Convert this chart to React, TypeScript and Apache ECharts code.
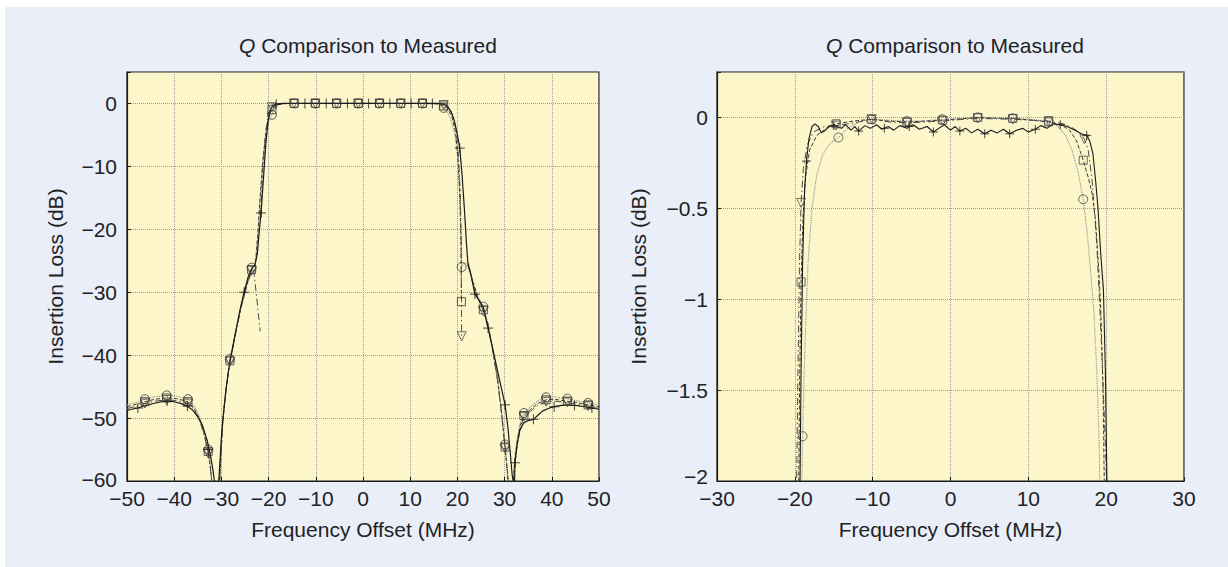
import React, { useEffect, useRef } from "react";
import * as echarts from "echarts";

type P = [number, number] | null;

const FONT = '"Liberation Sans", Arial, Helvetica, sans-serif';
const TITLE = "{i|Q} Comparison to Measured";
const X_NAME = "Frequency Offset (MHz)";
const Y_NAME = "Insertion Loss (dB)";

// axis ranges
const leftX = { min: -50, max: 50, interval: 10 };
const leftY = { min: -60, max: 5, interval: 10 };
const rightX = { min: -30, max: 30, interval: 10 };
const rightY = { min: -2, max: 0.25, interval: 0.5 };

// ---------- LEFT CHART (wide span) ----------
const leftMeasured: P[] = [
  [-50, -48.8], [-49, -48.6], [-47.7, -48.4], [-46, -48.0], [-44, -47.6], [-42, -47.3], [-40, -47.4],
  [-38.5, -47.7], [-37.2, -48.1], [-36, -48.8], [-35, -49.8], [-34, -51.2], [-33, -53.6], [-32.3, -56],
  [-31.8, -58.2], [-31.4, -60.5], [-30.6, -60.5], [-30.3, -57], [-30, -53], [-29.6, -49.5], [-29.1, -46],
  [-28.6, -43], [-28.1, -40.8], [-27.2, -37.2], [-26.2, -33.3], [-25.2, -30], [-24.3, -27.5], [-23.6, -26.3],
  [-22.9, -25.6], [-22.4, -24], [-22, -20.5], [-21.6, -17.4], [-21.1, -12], [-20.6, -6.5], [-20.1, -2.8],
  [-19.6, -0.9], [-19, -0.3], [-18.2, -0.1], [-17, 0], [-10, 0], [0, 0], [10, 0], [16, 0], [17, -0.1],
  [17.8, -0.4], [18.6, -1.2], [19.3, -2.6], [19.9, -4.6], [20.5, -7.1], [21, -11.5], [21.5, -17], [21.9, -22],
  [22.2, -25.2], [22.9, -27.3], [23.7, -30.3], [24.6, -31.3], [25.5, -32.4], [26.5, -35.7], [27.5, -39],
  [28.5, -42.5], [29.4, -45.5], [30.1, -47.9], [30.7, -51.5], [31.2, -55.5], [31.6, -59], [31.9, -60.5],
  [32.1, -60.5], [32.2, -57.1], [32.6, -54.5], [33.2, -52], [34, -50.8], [35, -50.4], [36.1, -50.2],
  [37, -49.6], [38, -48.9], [39.5, -48.4], [41, -48.1], [43, -47.9], [45, -48], [47, -48.2], [48.5, -48.4],
  [50, -48.6],
];
const leftMeasuredMarks: P[] = [
  [-47.7, -48.4], [-41.5, -47.3], [-37.2, -48.1], [-32.8, -55], [-25.2, -30], [-21.6, -17.4],
  [-18.4, -0.1], [-12.3, 0], [-7.8, 0], [-3.3, 0], [1.2, 0], [5.7, 0], [10.2, 0], [14.7, 0],
  [20.5, -7.1], [23.7, -30.3], [26.5, -35.7], [30.1, -47.9], [32.2, -57.1], [36.1, -50.2],
  [40.5, -48.2], [44.8, -48], [48.5, -48.4],
];

const leftCircle: P[] = [
  [-50, -47.9], [-48, -47.5], [-46.2, -47.0], [-44, -46.6], [-41.6, -46.4], [-39.5, -46.5], [-37.1, -47.0],
  [-35.8, -48], [-34.6, -49.8], [-33.6, -52.2], [-32.8, -55], [-32.3, -57.5], [-32, -60.5], [-30.5, -60.5],
  [-30.2, -56.5], [-29.8, -51], [-29.2, -46.5], [-28.6, -43], [-28.2, -40.6], [-27, -36.2], [-25.8, -32],
  [-24.6, -28.6], [-23.6, -26.1], [-22.8, -25.5], [-22.3, -21], [-21.8, -15], [-21.2, -9], [-20.5, -4.5],
  [-19.9, -2.6], [-19.3, -1.8], [-18.6, -0.6], [-17.6, -0.15], [-16, 0], [-14.6, 0], [-10.1, 0], [-5.6, 0],
  [-1, 0], [3.5, 0], [8, 0], [12.6, 0], [15.5, -0.1], [16.6, -0.4], [17.6, -1], [18.6, -2.5], [19.5, -5],
  [20.1, -9], [20.5, -15], [20.8, -21], [20.9, -26], [21.5, -25.3], [22.2, -25.4], [23.2, -28], [24.4, -30.8],
  [25.5, -32.3], [26.5, -35], [27.5, -39], [28.5, -43.5], [29.3, -48.5], [30.1, -54.2], [30.5, -57.5],
  [30.8, -60.5], [31.7, -60.5], [32, -57.5], [32.5, -54], [33.2, -51], [34.1, -49.2], [35.5, -48.2],
  [37, -47.3], [38.8, -46.7], [40.5, -46.6], [43, -46.9], [45, -47.2], [47.7, -47.6], [50, -47.9],
];
const leftCircleMarks: P[] = [
  [-46.2, -47], [-41.6, -46.4], [-37.1, -47], [-32.8, -55], [-28.2, -40.6], [-23.6, -26.1], [-19.3, -1.8],
  [-14.6, 0], [-10.1, 0], [-5.6, 0], [-1, 0], [3.5, 0], [8, 0], [12.6, 0], [17.1, -0.7],
  [20.9, -26], [25.5, -32.3], [30.1, -54.2], [34.1, -49.2], [38.8, -46.7], [43.3, -46.9], [47.7, -47.6],
];

const leftSquare: P[] = [
  [-50, -48.2], [-48, -47.8], [-46.2, -47.4], [-44, -47], [-41.6, -46.8], [-39.5, -46.9], [-37.1, -47.4],
  [-35.8, -48.4], [-34.6, -50.2], [-33.6, -52.6], [-32.8, -55.3], [-32.3, -58], [-32, -60.5], [-30.4, -60.5],
  [-30.1, -56], [-29.7, -50.5], [-29.1, -46], [-28.6, -43], [-28.2, -40.9], [-27, -36.4], [-25.8, -32.2],
  [-24.6, -28.8], [-23.6, -26.4], [-22.8, -25.7], [-22.3, -21], [-21.8, -15], [-21.2, -9], [-20.5, -4],
  [-19.9, -1.8], [-19.3, -1.0], [-18.6, -0.4], [-17.6, -0.1], [-16, 0], [-14.6, 0], [-10.1, 0], [-5.6, 0],
  [-1, 0], [3.5, 0], [8, 0], [12.6, 0], [15.8, -0.05], [16.8, -0.25], [17.8, -0.7], [18.8, -2], [19.6, -4.5],
  [20.1, -8.5], [20.5, -14], [20.75, -22], [20.85, -31.5], null, [22.2, -25.5], [23.2, -28.2], [24.4, -31],
  [25.5, -32.8], [26.5, -35.3], [27.5, -39.2], [28.5, -43.8], [29.3, -48.8], [30.1, -54.6], [30.5, -57.8],
  [30.8, -60.5], [31.8, -60.5], [32.1, -57.5], [32.6, -54], [33.3, -51.2], [34.1, -49.6], [35.5, -48.6],
  [37, -47.7], [38.8, -47.1], [40.5, -47], [43, -47.3], [45, -47.5], [47.7, -47.9], [50, -48.2],
];
const leftSquareMarks: P[] = [
  [-46.2, -47.4], [-41.6, -46.8], [-37.1, -47.4], [-32.8, -55.3], [-28.2, -40.9], [-23.6, -26.4], [-19.3, -1.0],
  [-14.6, 0], [-10.1, 0], [-5.6, 0], [-1, 0], [3.5, 0], [8, 0], [12.6, 0], [17.1, -0.4],
  [20.85, -31.5], [25.5, -32.8], [30.1, -54.6], [34.1, -49.6], [38.8, -47.1], [43.3, -47.3], [47.7, -47.9],
];

const leftTri: P[] = [
  [-50, -48.5], [-48, -48.1], [-46.2, -47.7], [-44, -47.3], [-41.6, -47.1], [-39.5, -47.2], [-37.1, -47.7],
  [-35.8, -48.6], [-34.6, -50.4], [-33.6, -52.8], [-32.8, -55.6], [-32.3, -58.2], [-32, -60.5], [-30.4, -60.5],
  [-30.1, -56], [-29.7, -50.5], [-29.1, -46], [-28.6, -43.2], [-28.2, -41], [-27, -36.6], [-25.8, -32.4],
  [-24.6, -29], [-23.6, -26.6], [-23.2, -26.2], [-22.5, -31], [-21.8, -36.2], null, [-21.7, -18], [-21.2, -10],
  [-20.6, -4.5], [-20, -1.6], [-19.3, -0.6], [-18.6, -0.2], [-17.6, 0], [-14.6, 0], [-10.1, 0], [-5.6, 0],
  [-1, 0], [3.5, 0], [8, 0], [12.6, 0], [16, -0.05], [17, -0.2], [18, -0.6], [19, -1.8], [19.7, -4], [20.2, -8],
  [20.6, -14], [20.8, -22], [20.9, -37], null, [22.2, -25.6], [23.2, -28.4], [24.4, -31.2], [25.5, -33],
  [26.5, -35.5], [27.5, -39.4], [28.5, -44], [29.3, -49], [30.1, -54.8], [30.5, -58], [30.8, -60.5],
  [31.9, -60.5], [32.2, -57.5], [32.7, -54], [33.4, -51.4], [34.1, -49.8], [35.5, -48.9], [37, -48],
  [38.8, -47.4], [40.5, -47.3], [43, -47.5], [45, -47.8], [47.7, -48.1], [50, -48.4],
];
const leftTriMarks: P[] = [
  [-46.2, -47.7], [-41.6, -47.1], [-37.1, -47.7], [-32.8, -55.6], [-28.2, -41], [-23.6, -26.6], [-19.3, -0.6],
  [-14.6, 0], [-10.1, 0], [-5.6, 0], [-1, 0], [3.5, 0], [8, 0], [12.6, 0], [17.1, -0.25],
  [20.9, -37], [25.5, -33], [30.1, -54.8], [34.1, -49.8], [38.8, -47.4], [43.3, -47.5], [47.7, -48.1],
];

// ---------- RIGHT CHART (passband zoom) ----------
const rightMeasured: P[] = [
  [-19.4, -2.3], [-19.2, -1.4], [-19.0, -0.8], [-18.75, -0.4], [-18.5, -0.24], [-18.2, -0.12], [-17.8, -0.05],
  [-17.4, -0.035], [-17.0, -0.05], [-16.6, -0.085], [-16.2, -0.075], [-15.6, -0.05], [-15, -0.045],
  [-14, -0.06], [-13.5, -0.04], [-12.8, -0.07], [-12.3, -0.05], [-11.8, -0.075], [-11, -0.045], [-10.3, -0.06],
  [-9.5, -0.04], [-8.8, -0.065], [-8, -0.05], [-7.3, -0.07], [-6.5, -0.045], [-5.6, -0.06], [-4.8, -0.04],
  [-4, -0.065], [-3, -0.05], [-2.2, -0.08], [-1.5, -0.06], [-0.8, -0.04], [0, -0.07], [0.6, -0.05],
  [1.2, -0.075], [2, -0.06], [2.7, -0.085], [3.5, -0.065], [4.4, -0.09], [5.2, -0.07], [6, -0.085],
  [6.8, -0.065], [7.6, -0.09], [8.5, -0.07], [9.3, -0.06], [10, -0.08], [10.9, -0.065], [11.6, -0.045],
  [12.4, -0.06], [13.2, -0.035], [14, -0.04], [15, -0.05], [16, -0.07], [16.8, -0.09], [17.5, -0.1],
  [17.9, -0.13], [18.3, -0.2], [18.65, -0.35], [18.95, -0.5], [19.3, -0.75], [19.65, -0.95], [19.9, -1.4],
  [20.1, -2.0], [20.2, -2.3],
];
const rightMeasuredMarks: P[] = [
  [-18.5, -0.24], [-15, -0.045], [-11.8, -0.075], [-8.5, -0.06], [-5.3, -0.05], [-2.2, -0.08], [1.2, -0.075],
  [4.4, -0.09], [7.6, -0.09], [10.9, -0.065], [14.1, -0.04], [17.5, -0.1],
];

const rightCircle: P[] = [
  [-19.2, -2.3], [-19.0, -1.754], [-18.7, -1.25], [-18.3, -0.8], [-17.8, -0.5], [-17.2, -0.32], [-16.4, -0.2],
  [-15.4, -0.14], [-14.4, -0.11], [-13.2, -0.06], [-11.8, -0.025], [-10.1, -0.01], [-8, -0.015], [-5.6, -0.02],
  [-3.5, -0.02], [-1.1, -0.01], [1, -0.008], [3.5, 0], [6, -0.006], [8, -0.005], [10.5, -0.012], [12.6, -0.02],
  [13.8, -0.05], [14.8, -0.1], [15.6, -0.18], [16.4, -0.3], [17.05, -0.45], [17.6, -0.65], [18.0, -0.85],
  [18.4, -1.05], [18.8, -1.4], [19.1, -1.8], [19.3, -2.3],
];
const rightCircleMarks: P[] = [
  [-19.0, -1.754], [-14.4, -0.11], [-10.1, -0.01], [-5.6, -0.02], [-1.1, -0.01], [3.5, 0], [8, -0.005],
  [12.6, -0.02], [17.05, -0.45],
];

const rightSquare: P[] = [
  [-19.55, -2.3], [-19.4, -1.5], [-19.2, -0.905], [-18.95, -0.55], [-18.6, -0.32], [-18.1, -0.18], [-17.2, -0.1],
  [-16, -0.06], [-14.7, -0.035], [-12.5, -0.02], [-10.2, -0.01], [-8, -0.02], [-5.6, -0.025], [-3.2, -0.02],
  [-1, -0.015], [1.2, -0.008], [3.5, 0], [5.8, -0.004], [8, -0.005], [10.3, -0.015], [12.6, -0.025],
  [14.2, -0.04], [15.3, -0.07], [16.2, -0.13], [17.05, -0.235], [17.7, -0.33], [18.2, -0.42], [18.6, -0.55],
  [19.0, -0.8], [19.3, -1.05], [19.6, -1.5], [19.85, -2.3],
];
const rightSquareMarks: P[] = [
  [-19.2, -0.905], [-14.7, -0.035], [-10.2, -0.01], [-5.6, -0.025], [-1.0, -0.015], [3.5, 0], [8, -0.005],
  [12.6, -0.025], [17.05, -0.235],
];

const rightTri: P[] = [
  [-19.85, -2.3], [-19.6, -1.4], [-19.4, -0.8], [-19.2, -0.47], [-18.9, -0.28], [-18.4, -0.15], [-17.6, -0.08],
  [-16.2, -0.05], [-14.7, -0.045], [-12.4, -0.03], [-10.1, -0.01], [-7.8, -0.025], [-5.6, -0.03], [-3.3, -0.025],
  [-1, -0.02], [1.2, -0.012], [3.5, -0.005], [5.8, -0.008], [8, -0.01], [10.3, -0.015], [12.6, -0.02],
  [14.5, -0.035], [15.8, -0.06], [16.7, -0.09], [17.2, -0.12], [17.7, -0.18], [18.2, -0.35], [18.8, -0.7],
  [19.4, -1.25], [19.9, -1.8], [20.25, -2.3],
];
const rightTriMarks: P[] = [
  [-19.2, -0.47], [-14.7, -0.045], [-10.1, -0.01], [-5.6, -0.03], [-1.0, -0.02], [3.5, -0.005], [8, -0.01],
  [12.6, -0.02], [17.2, -0.12],
];

const PLUS = "path://M0,5L10,5M5,0L5,10";

const toData = (arr: P[]) => arr.map((p) => (p === null ? ["-", "-"] : p));

const minus = (v: number) => String(v).replace("-", "\u2212");

function lineSeries(gi: number, name: string, data: P[], type: any, color: string, width = 1) {
  return {
    type: "line",
    name,
    xAxisIndex: gi,
    yAxisIndex: gi,
    data: toData(data),
    symbol: "none",
    showSymbol: false,
    connectNulls: false,
    clip: true,
    silent: true,
    lineStyle: { type, color, width },
    z: 3,
  };
}

function markSeries(gi: number, name: string, data: P[], symbol: string, size: number, color: string, rotate = 0) {
  return {
    type: "scatter",
    name,
    xAxisIndex: gi,
    yAxisIndex: gi,
    data: toData(data),
    symbol,
    symbolSize: size,
    symbolRotate: rotate,
    clip: true,
    silent: true,
    itemStyle: { color: "rgba(0,0,0,0)", borderColor: color, borderWidth: 1 },
    z: 4,
  };
}

const FS = 21;
const TEXT = "#222";

function xAxis(gi: number, r: { min: number; max: number; interval: number }) {
  return {
    type: "value",
    gridIndex: gi,
    min: r.min,
    max: r.max,
    interval: r.interval,
    name: X_NAME,
    nameLocation: "middle",
    nameGap: 38,
    nameTextStyle: { fontSize: FS, color: TEXT, fontFamily: FONT },
    axisLine: { show: true, onZero: false, lineStyle: { color: "#1a1a1a", width: 1.2 } },
    axisTick: { show: true, inside: true, length: 4, lineStyle: { color: "#1a1a1a" } },
    axisLabel: { fontSize: FS, color: TEXT, fontFamily: FONT, margin: 7, formatter: (v: number) => minus(v) },
    splitLine: { show: true, lineStyle: { type: "dotted", color: "#9a9a9a", width: 1 } },
  };
}

function yAxis(gi: number, r: { min: number; max: number; interval: number }, gap: number, margin: number, liftMin: number) {
  return {
    type: "value",
    gridIndex: gi,
    min: r.min,
    max: r.max,
    interval: r.interval,
    name: Y_NAME,
    nameLocation: "middle",
    nameGap: gap,
    nameTextStyle: { fontSize: FS, color: TEXT, fontFamily: FONT },
    axisLine: { show: true, onZero: false, lineStyle: { color: "#1a1a1a", width: 1.2 } },
    axisTick: { show: true, inside: true, length: 4, lineStyle: { color: "#1a1a1a" } },
    axisLabel: {
      fontSize: FS,
      color: TEXT,
      fontFamily: FONT,
      margin,
      formatter: (v: number) =>
        v > r.max - 1e-9 ? "" : v < r.min + 1e-9 ? "{lo|" + minus(v) + "}" : minus(v),
      rich: { lo: { fontSize: FS, color: TEXT, fontFamily: FONT, padding: [0, 0, liftMin, 0] } },
    },
    splitLine: { show: true, lineStyle: { type: "dotted", color: "#9a9a9a", width: 1 } },
  };
}

function title(center: number) {
  return {
    text: TITLE,
    left: center,
    top: 30,
    textAlign: "center",
    textStyle: {
      fontSize: FS,
      fontWeight: "normal",
      color: TEXT,
      fontFamily: FONT,
      rich: { i: { fontStyle: "italic", fontSize: FS, color: TEXT, fontFamily: FONT } },
    },
  };
}

export default function App() {
  const ref = useRef<HTMLDivElement>(null);
  useEffect(() => {
    if (!ref.current) return;
    const chart = echarts.init(ref.current, undefined, { renderer: "svg", width: 1228, height: 567 });
    const DASHDOT = [7, 3, 1.5, 3];
    chart.setOption({
      animation: false,
      backgroundColor: "transparent",
      title: [title(363), title(950)],
      grid: [
        { left: 127, top: 72, width: 472, height: 409, show: true, backgroundColor: "#fdf6cb", borderColor: "#1a1a1a", borderWidth: 1.2 },
        { left: 717, top: 72, width: 467, height: 409, show: true, backgroundColor: "#fdf6cb", borderColor: "#1a1a1a", borderWidth: 1.2 },
      ],
      xAxis: [xAxis(0, leftX), xAxis(1, rightX)],
      yAxis: [yAxis(0, leftY, 61, 10, 4), yAxis(1, rightY, 68, 9, 10)],
      series: [
        lineSeries(0, "Q model A", leftCircle, "dotted", "#8a8a8a", 1.1),
        lineSeries(0, "Q model B", leftSquare, "dashed", "#3a3a3a"),
        lineSeries(0, "Q model C", leftTri, DASHDOT, "#4a4a4a"),
        lineSeries(0, "Measured", leftMeasured, "solid", "#1a1a1a", 1.2),
        markSeries(0, "Q model A", leftCircleMarks, "circle", 9, "#333"),
        markSeries(0, "Q model B", leftSquareMarks, "rect", 8, "#333"),
        markSeries(0, "Q model C", leftTriMarks, "triangle", 9, "#444", 180),
        markSeries(0, "Measured", leftMeasuredMarks, PLUS, 10, "#1a1a1a"),
        lineSeries(1, "Q model A", rightCircle, "dotted", "#8a8a8a", 1.1),
        lineSeries(1, "Q model B", rightSquare, "dashed", "#3a3a3a"),
        lineSeries(1, "Q model C", rightTri, DASHDOT, "#4a4a4a"),
        lineSeries(1, "Measured", rightMeasured, "solid", "#1a1a1a", 1.1),
        markSeries(1, "Q model A", rightCircleMarks, "circle", 9, "#444"),
        markSeries(1, "Q model B", rightSquareMarks, "rect", 8, "#444"),
        markSeries(1, "Q model C", rightTriMarks, "triangle", 9, "#555", 180),
        markSeries(1, "Measured", rightMeasuredMarks, PLUS, 9, "#1a1a1a"),
      ],
    });
    return () => chart.dispose();
  }, []);
  return (
    <div style={{ position: "fixed", left: 0, top: 0, width: 1228, height: 567, background: "#ffffff", overflow: "hidden" }}>
      <div style={{ position: "absolute", left: 5, top: 7, width: 1223, height: 560, background: "#e9eef8" }} />
      <div ref={ref} style={{ position: "absolute", left: 0, top: 0, width: 1228, height: 567 }} />
    </div>
  );
}
